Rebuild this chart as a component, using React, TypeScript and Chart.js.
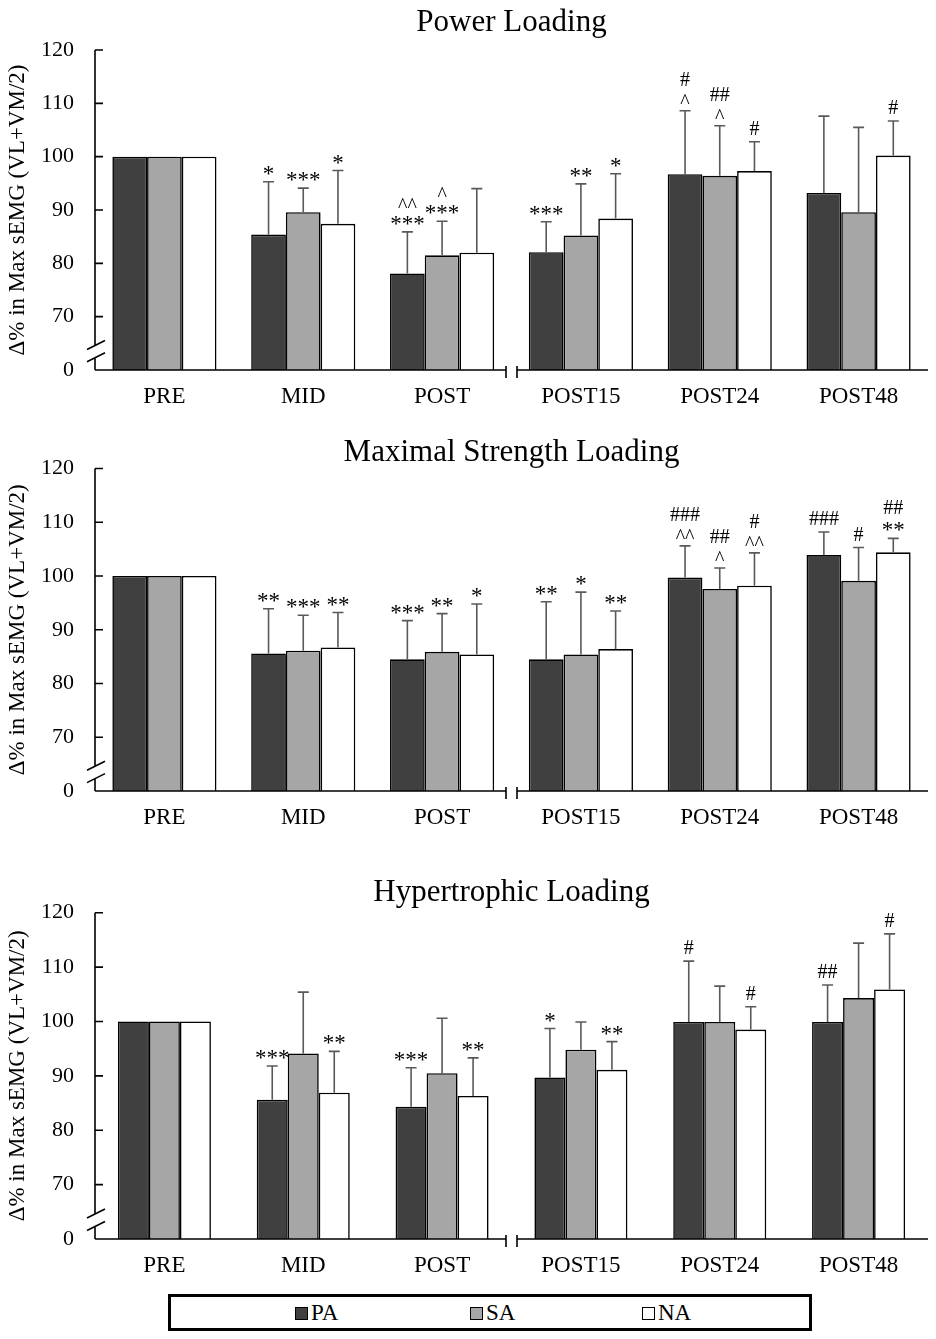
import React, { useEffect, useRef } from "react";
import { Chart, registerables } from "chart.js";

Chart.register(...registerables);

const FONT = "'Liberation Serif', 'Times New Roman', serif";

const categories = ["PRE", "MID", "POST", "POST15", "POST24", "POST48"];
const groupNames = ["PA", "SA", "NA"];
const groupColors = ["#404040", "#a6a6a6", "#ffffff"];

// the y axis is broken: the lowest tick (60 on the scale) is shown as "0"
const yMin = 60;
const yMax = 120;
const yStep = 10;

// Power Loading
const powerPA = [100, 85.4, 78.1, 82.1, 96.7, 93.2];
const powerSA = [100, 89.6, 81.5, 85.2, 96.4, 89.6];
const powerNA = [100, 87.4, 82.0, 88.4, 97.3, 100.2];
const powerErrPA = [0, 9.9, 7.8, 5.7, 11.9, 14.4];
const powerErrSA = [0, 4.5, 6.4, 9.7, 9.4, 15.9];
const powerErrNA = [0, 10.0, 12.0, 8.4, 5.5, 6.5];
const powerSigPA = ["", "*", "^^\n***", "***", "#\n^", ""];
const powerSigSA = ["", "***", "^\n***", "**", "##\n^", ""];
const powerSigNA = ["", "*", "", "*", "#", "#"];

// Maximal Strength Loading
const strengthPA = [100, 85.6, 84.5, 84.5, 99.7, 103.9];
const strengthSA = [100, 86.1, 85.9, 85.4, 97.6, 99.1];
const strengthNA = [100, 86.7, 85.4, 86.4, 98.2, 104.4];
const strengthErrPA = [0, 8.3, 7.2, 10.7, 5.9, 4.3];
const strengthErrSA = [0, 6.6, 7.1, 11.6, 3.9, 6.2];
const strengthErrNA = [0, 6.5, 9.4, 7.1, 6.1, 2.6];
const strengthSigPA = ["", "**", "***", "**", "###\n^^", "###"];
const strengthSigSA = ["", "***", "**", "*", "##\n^", "#"];
const strengthSigNA = ["", "**", "*", "**", "#\n^^", "##\n**"];

// Hypertrophic Loading
const hyperPA = [100, 85.6, 84.3, 89.7, 99.9, 99.9];
const hyperSA = [100, 94.1, 90.5, 94.8, 99.9, 104.3];
const hyperNA = [100, 86.9, 86.3, 91.1, 98.5, 105.9];
const hyperErrPA = [0, 6.2, 7.2, 9.0, 11.2, 6.8];
const hyperErrSA = [0, 11.3, 10.1, 5.1, 6.6, 10.1];
const hyperErrNA = [0, 7.6, 7.0, 5.2, 4.2, 10.2];
const hyperSigPA = ["", "***", "***", "*", "#", "##"];
const hyperSigSA = ["", "", "", "", "", ""];
const hyperSigNA = ["", "**", "**", "**", "#", "#"];

// error bars, significance marks and the broken axes
const breakPlugin = {
  id: "breakPlugin",
  afterDatasetsDraw(chart: any) {
    const { ctx, chartArea, scales } = chart;
    const xs = scales.x;
    const ys = scales.y;
    ctx.save();

    chart.data.datasets.forEach((ds: any, di: number) => {
      const meta = chart.getDatasetMeta(di);
      meta.data.forEach((bar: any, i: number) => {
        const v = ds.data[i];
        const e = ds.errors[i];
        let top = bar.y;
        if (e > 0) {
          top = ys.getPixelForValue(v + e);
          ctx.strokeStyle = "#595959";
          ctx.lineWidth = 1.6;
          ctx.beginPath();
          ctx.moveTo(bar.x, bar.y);
          ctx.lineTo(bar.x, top);
          ctx.moveTo(bar.x - 5.5, top);
          ctx.lineTo(bar.x + 5.5, top);
          ctx.stroke();
        }
        const sig: string = ds.marks[i];
        if (sig) {
          ctx.fillStyle = "#000";
          ctx.textAlign = "center";
          ctx.textBaseline = "alphabetic";
          const lines = sig.split("\n");
          let cursor = top - 7;
          for (let k = lines.length - 1; k >= 0; k--) {
            // asterisks are drawn a bit larger, as in the original figure
            ctx.font = lines[k].startsWith("*") ? `23px ${FONT}` : `20px ${FONT}`;
            const m = ctx.measureText(lines[k]);
            const base = cursor - m.actualBoundingBoxDescent;
            ctx.fillText(lines[k], bar.x, base);
            cursor = base - m.actualBoundingBoxAscent - 8;
          }
        }
      });
    });

    ctx.strokeStyle = "#000";
    ctx.lineWidth = 1.6;
    const x0 = chartArea.left;
    const y0 = chartArea.bottom;

    // y axis with a break between 0 and 70
    const b1 = ys.getPixelForValue(64.6);
    const b2 = ys.getPixelForValue(62.3);
    ctx.beginPath();
    ctx.moveTo(x0, chartArea.top);
    ctx.lineTo(x0, b1);
    ctx.moveTo(x0, b2);
    ctx.lineTo(x0, y0);
    [b1, b2].forEach((b) => {
      ctx.moveTo(x0 - 8, b + 4);
      ctx.lineTo(x0 + 10, b - 5);
    });
    for (let v = yMin + yStep; v <= yMax; v += yStep) {
      const py = ys.getPixelForValue(v);
      ctx.moveTo(x0, py);
      ctx.lineTo(x0 + 8, py);
    }
    ctx.stroke();

    // x axis with a break between POST and POST15
    const bx = (xs.getPixelForValue(2) + xs.getPixelForValue(3)) / 2;
    ctx.beginPath();
    ctx.moveTo(x0, y0);
    ctx.lineTo(bx - 5.5, y0);
    ctx.moveTo(bx + 5.5, y0);
    ctx.lineTo(chartArea.right, y0);
    ctx.moveTo(bx - 5.5, y0 - 4);
    ctx.lineTo(bx - 5.5, y0 + 8);
    ctx.moveTo(bx + 5.5, y0 - 4);
    ctx.lineTo(bx + 5.5, y0 + 8);
    ctx.stroke();

    ctx.restore();
  },
};

type PanelProps = {
  title: string;
  values: number[][];
  errors: number[][];
  marks: string[][];
  top: number;
  height: number;
  titleBottom: number;
  catPct: number;
};

const Panel = ({ title, values, errors, marks, top, height, titleBottom, catPct }: PanelProps) => {
  const canvasRef = useRef<HTMLCanvasElement>(null);
  const chartRef = useRef<Chart | null>(null);

  useEffect(() => {
    const canvas = canvasRef.current;
    if (chartRef.current) {
      chartRef.current.destroy();
    }
    if (canvas) {
      chartRef.current = new Chart(canvas, {
        type: "bar",
        data: {
          labels: categories,
          datasets: groupNames.map((name, g) => ({
            label: name,
            data: values[g],
            errors: errors[g],
            marks: marks[g],
            backgroundColor: groupColors[g],
            borderColor: "#000",
            borderWidth: 1.6,
            barPercentage: 1,
            categoryPercentage: catPct,
          })) as any,
        },
        options: {
          animation: false,
          responsive: true,
          maintainAspectRatio: false,
          layout: { padding: { left: 0, right: 8, top: 0, bottom: 0 } },
          scales: {
            x: {
              grid: { display: false, drawTicks: false },
              border: { display: false },
              ticks: {
                color: "#000",
                font: { family: FONT, size: 23 },
                padding: 13,
              },
              afterFit: (s: any) => {
                s.height = 50;
              },
            },
            y: {
              min: yMin,
              max: yMax,
              grid: { display: false, drawTicks: false },
              border: { display: false },
              ticks: {
                stepSize: yStep,
                color: "#000",
                font: { family: FONT, size: 22 },
                padding: 21,
                callback: (v: any) => (v === yMin ? "0" : String(v)),
              },
              title: {
                display: true,
                text: "Δ% in Max sEMG (VL+VM/2)",
                color: "#000",
                font: { family: FONT, size: 23 },
                padding: { top: 4, bottom: 4 },
              },
              afterFit: (s: any) => {
                s.width = 95;
              },
            },
          },
          plugins: {
            legend: { display: false },
            tooltip: { enabled: false },
            title: {
              display: true,
              text: title,
              color: "#000",
              fullSize: false,
              font: { family: FONT, size: 31, weight: "normal", lineHeight: 1 },
              padding: { top: 7.5, bottom: titleBottom },
            },
          },
        },
        plugins: [breakPlugin],
      });
    }
    return () => {
      if (chartRef.current) {
        chartRef.current.destroy();
        chartRef.current = null;
      }
    };
  }, []);

  return (
    <div style={{ position: "absolute", left: 0, top, width: 936, height }}>
      <canvas ref={canvasRef} />
    </div>
  );
};

const legendLeft = [295, 470, 642];

const App = () => {
  return (
    <div style={{ position: "absolute", left: 0, top: 0, width: 936, height: 1339, background: "#fff", fontFamily: FONT }}>
      <Panel
        title="Power Loading"
        values={[powerPA, powerSA, powerNA]}
        errors={[powerErrPA, powerErrSA, powerErrNA]}
        marks={[powerSigPA, powerSigSA, powerSigNA]}
        top={0}
        height={420}
        titleBottom={11.5}
        catPct={0.75}
      />
      <Panel
        title="Maximal Strength Loading"
        values={[strengthPA, strengthSA, strengthNA]}
        errors={[strengthErrPA, strengthErrSA, strengthErrNA]}
        marks={[strengthSigPA, strengthSigSA, strengthSigNA]}
        top={430}
        height={411}
        titleBottom={0}
        catPct={0.75}
      />
      <Panel
        title="Hypertrophic Loading"
        values={[hyperPA, hyperSA, hyperNA]}
        errors={[hyperErrPA, hyperErrSA, hyperErrNA]}
        marks={[hyperSigPA, hyperSigSA, hyperSigNA]}
        top={870}
        height={419}
        titleBottom={4.2}
        catPct={0.67}
      />
      <div
        style={{
          position: "absolute",
          left: 168,
          top: 1294,
          width: 644,
          height: 37,
          border: "3px solid #000",
          boxSizing: "border-box",
        }}
      />
      {groupNames.map((name, g) => (
        <div
          key={name}
          style={{
            position: "absolute",
            left: legendLeft[g],
            top: 1299,
            height: 28,
            display: "flex",
            alignItems: "center",
            fontSize: 23,
            lineHeight: "28px",
            color: "#000",
          }}
        >
          <span
            style={{
              display: "inline-block",
              width: 11,
              height: 11,
              border: "1.5px solid #000",
              background: groupColors[g],
              marginRight: 3,
            }}
          />
          {name}
        </div>
      ))}
    </div>
  );
};

export default App;
